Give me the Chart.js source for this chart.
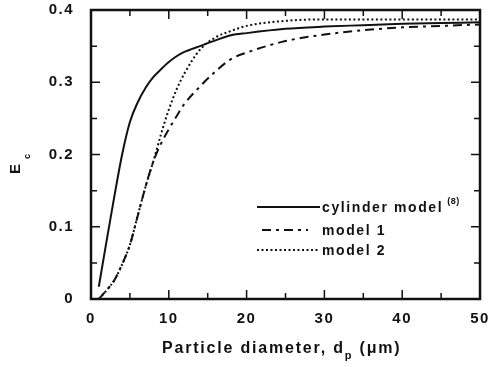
<!DOCTYPE html>
<html>
<head>
<meta charset="utf-8">
<script src="https://cdn.jsdelivr.net/npm/chart.js@4"></script>
<style>
  html, body { margin: 0; padding: 0; background: #fff; }
  #wrap { width: 489px; height: 367px; }
</style>
</head>
<body>
<div id="wrap"><canvas id="myChart" width="489" height="367"></canvas></div>
<script>
const dp = [1, 2, 3, 4, 5, 6, 7, 8, 9, 10, 11, 12, 14, 16, 18, 20, 25, 30, 35, 40, 45, 50]; // particle diameter (um)
const cylinder = [0.017, 0.08, 0.142, 0.2, 0.245, 0.272, 0.292, 0.307, 0.318, 0.328, 0.336, 0.342, 0.35, 0.358, 0.365, 0.368, 0.374, 0.377, 0.379, 0.381, 0.382, 0.383];
const model1 = [0.0, 0.012, 0.026, 0.048, 0.075, 0.115, 0.155, 0.19, 0.215, 0.235, 0.253, 0.27, 0.294, 0.315, 0.332, 0.341, 0.357, 0.366, 0.372, 0.376, 0.378, 0.38];
const model2 = [0.0, 0.012, 0.026, 0.048, 0.075, 0.115, 0.155, 0.19, 0.228, 0.262, 0.29, 0.312, 0.345, 0.362, 0.371, 0.378, 0.385, 0.387, 0.387, 0.387, 0.387, 0.387];
const xTicks = [0, 10, 20, 30, 40, 50];
const yTicks = [0, 0.1, 0.2, 0.3, 0.4];

const FONT = '"Liberation Sans", Arial, sans-serif';
const pts = arr => dp.map((x, i) => ({ x: x, y: arr[i] }));

// spaced-out lettering like the scanned figure
const spacingPlugin = {
    id: 'spacing',
    beforeDraw(chart) { chart.ctx.letterSpacing = '1.5px'; }
};

// ticks inside the box on all four sides, plus the frame
const framePlugin = {
    id: 'frame',
    afterDatasetsDraw(chart) {
        const { ctx, chartArea: a, scales: { x, y } } = chart;
        ctx.save();
        ctx.strokeStyle = '#111';
        ctx.lineWidth = 1.5;
        ctx.beginPath();
        for (let v = 0; v <= 50; v += 5) {
            const px = x.getPixelForValue(v);
            const len = v % 10 === 0 ? 9 : 6;
            ctx.moveTo(px, a.bottom); ctx.lineTo(px, a.bottom - len);
            ctx.moveTo(px, a.top); ctx.lineTo(px, a.top + len);
        }
        for (let i = 0; i <= 8; i++) {
            const py = y.getPixelForValue(i * 0.05);
            const len = i % 2 === 0 ? 9 : 6;
            ctx.moveTo(a.left, py); ctx.lineTo(a.left + len, py);
            ctx.moveTo(a.right, py); ctx.lineTo(a.right - len, py);
        }
        ctx.stroke();
        ctx.lineWidth = 2.5;
        ctx.strokeRect(a.left, a.top, a.right - a.left, a.bottom - a.top);
        ctx.restore();
    }
};

// axis titles with subscripts, and the legend inside the plot
const textPlugin = {
    id: 'texts',
    afterDraw(chart) {
        const { ctx } = chart;
        ctx.save();
        ctx.fillStyle = '#111';
        ctx.textBaseline = 'alphabetic';
        ctx.textAlign = 'left';

        // x title
        ctx.letterSpacing = '1.8px';
        const big = 'bold 16px ' + FONT, sub = 'bold 11px ' + FONT;
        const parts = [['Particle diameter, d', big, 0], ['p', sub, 6], [' (\u03bcm)', big, 0]];
        let xx = 162;
        parts.forEach(p => { ctx.font = p[1]; ctx.fillText(p[0], xx, 353 + p[2]); xx += ctx.measureText(p[0]).width; });

        // y title, rotated
        ctx.letterSpacing = '0px';
        ctx.translate(20, 174);
        ctx.rotate(-Math.PI / 2);
        ctx.font = 'bold 15px ' + FONT;
        ctx.fillText('E', 0, 0);
        ctx.font = 'bold 9px ' + FONT;
        ctx.fillText('c', 15, 10);
        ctx.setTransform(1, 0, 0, 1, 0, 0);

        // legend
        const rows = [
            { ds: chart.data.datasets[0], y: 207, x0: 257, x1: 320 },
            { ds: chart.data.datasets[1], y: 230, x0: 262, x1: 308 },
            { ds: chart.data.datasets[2], y: 250, x0: 257, x1: 320 }
        ];
        rows.forEach(r => {
            ctx.strokeStyle = '#111';
            ctx.lineWidth = r.ds.borderWidth;
            ctx.setLineDash(r.ds.borderDash || []);
            ctx.beginPath();
            ctx.moveTo(r.x0, r.y); ctx.lineTo(r.x1, r.y);
            ctx.stroke();
            ctx.setLineDash([]);
            ctx.letterSpacing = '1.6px';
            ctx.font = 'bold 14px ' + FONT;
            ctx.fillText(r.ds.label, 322, r.y + 5);
            if (r.ds.label === 'cylinder model') {
                const tw = ctx.measureText(r.ds.label).width;
                ctx.letterSpacing = '0.5px';
                ctx.font = 'bold 9px ' + FONT;
                ctx.fillText('(8)', 322 + tw + 4, r.y - 3);
            }
        });
        ctx.restore();
    }
};

new Chart(document.getElementById('myChart'), {
    type: 'line',
    data: {
        datasets: [{
            label: 'cylinder model',
            data: pts(cylinder),
            borderColor: '#111',
            borderWidth: 2,
            pointRadius: 0,
            cubicInterpolationMode: 'monotone'
        }, {
            label: 'model 1',
            data: pts(model1),
            borderColor: '#111',
            borderWidth: 2,
            borderDash: [9, 5, 3, 5],
            pointRadius: 0,
            cubicInterpolationMode: 'monotone'
        }, {
            label: 'model 2',
            data: pts(model2),
            borderColor: '#111',
            borderWidth: 2,
            borderDash: [2, 2.5],
            pointRadius: 0,
            cubicInterpolationMode: 'monotone'
        }]
    },
    options: {
        responsive: false,
        animation: false,
        layout: { padding: { top: 10, right: 9, left: 0, bottom: 0 } },
        plugins: { legend: { display: false }, tooltip: { enabled: false } },
        scales: {
            x: {
                type: 'linear',
                min: 0, max: 50,
                afterFit: s => { s.height = 68; s.paddingLeft = 0; s.paddingRight = 0; },
                afterBuildTicks: s => { s.ticks = xTicks.map(v => ({ value: v })); },
                grid: { display: false },
                border: { display: false },
                ticks: { color: '#111', padding: 3, maxRotation: 0, font: { family: FONT, size: 15, weight: 'bold' } }
            },
            y: {
                min: 0, max: 0.4,
                afterFit: s => { s.width = 91; s.paddingTop = 0; s.paddingBottom = 0; },
                afterBuildTicks: s => { s.ticks = yTicks.map(v => ({ value: v })); },
                grid: { display: false },
                border: { display: false },
                ticks: {
                    color: '#111', padding: 9,
                    font: { family: FONT, size: 15, weight: 'bold' },
                    callback: v => v === 0 ? '0' : v.toFixed(1)
                }
            }
        }
    },
    plugins: [spacingPlugin, framePlugin, textPlugin]
});
</script>
</body>
</html>
